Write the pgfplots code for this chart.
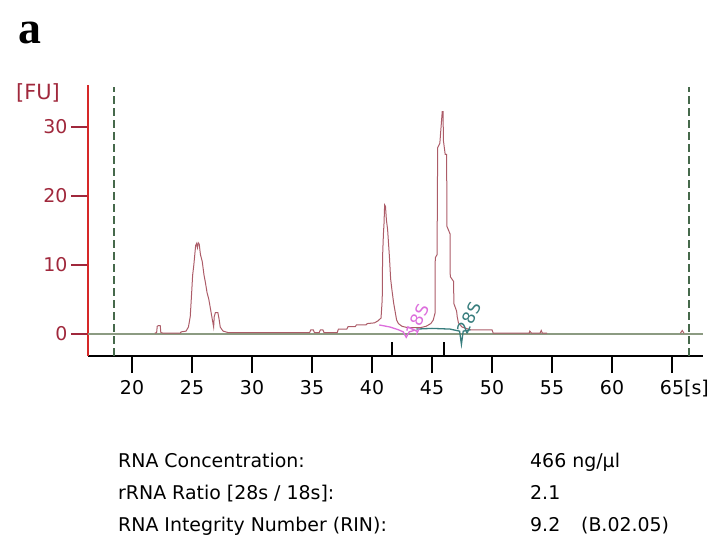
\documentclass[border=0pt]{standalone}
\usepackage{pgfplots}
\pgfplotsset{compat=1.18}
\usepackage{fontspec}
\setmainfont{DejaVu Sans}
\newfontfamily\serifbold{Liberation Serif}
\definecolor{trace}{RGB}{172,92,104}
\definecolor{base}{RGB}{140,155,130}
\definecolor{fuaxis}{RGB}{214,40,40}
\definecolor{fulabel}{RGB}{160,40,60}
\definecolor{marker}{RGB}{70,105,75}
\definecolor{pink18}{RGB}{220,110,220}
\definecolor{teal28}{RGB}{55,125,125}
\newcommand{\tickfont}{\fontsize{19}{22}\selectfont}
\begin{document}
\begin{tikzpicture}
\path[use as bounding box] (0bp,0bp) rectangle (717bp,545bp);
\begin{axis}[
  at={(88bp,189bp)}, anchor=south west,
  scale only axis, width=615.2bp, height=271.2bp,
  xmin=16.33, xmax=67.6, ymin=-3.2, ymax=36.1,
  axis lines=left, axis line style={-},
  x axis line style={black, line width=2.4bp},
  y axis line style={fuaxis, line width=2.2bp},
  tick align=outside, major tick length=17bp,
  xtick={20,25,...,65}, ytick={0,10,20,30},
  minor tick num=0,
  xtick style={black, line width=2bp},
  ytick style={fulabel, line width=2bp},
  ticklabel style={font=\tickfont},
  xticklabel style={yshift=-4bp},
  yticklabel style={text=fulabel},
  /pgf/number format/assume math mode=true,
  extra x ticks={41.7,46.0}, extra x tick labels={},
  extra tick style={tick align=inside, major tick length=14bp},
  clip=false,
]
% window markers
\addplot[marker, dash pattern=on 8bp off 4bp, line width=1.4bp] coordinates {(18.5,-3.2) (18.5,35.8)};
\addplot[marker, dash pattern=on 8bp off 4bp, line width=1.4bp] coordinates {(66.4,-3.2) (66.4,35.8)};
% baseline
\addplot[base, line width=1.8bp] coordinates {(16.33,0) (67.6,0)};
% electropherogram trace
\addplot[trace, line width=1bp] coordinates {
(21.9,0.1) (22.05,0.2) (22.1,1.1) (22.2,1.2) (22.35,1.2) (22.4,0.2) (22.6,0.1)
(24.0,0.1) (24.1,0.3) (24.5,0.4) (24.7,1.0) (24.85,2.5) (24.95,5.4) (25.05,8.5)
(25.15,10.0) (25.3,12.8) (25.38,13.1) (25.45,12.5) (25.52,13.2) (25.6,13.0)
(25.7,11.5) (25.85,10.5) (26.0,8.5) (26.1,7.6) (26.25,6.0) (26.4,5.0) (26.55,3.5)
(26.7,2.0) (26.8,1.0) (26.85,2.5) (26.95,3.1) (27.15,3.1) (27.25,2.2) (27.35,1.0)
(27.5,0.6) (27.6,0.4) (28,0.2) (34.8,0.2) (34.9,0.6) (35.1,0.6) (35.2,0.2)
(35.6,0.2) (35.7,0.6) (35.9,0.6) (36.0,0.2) (37.1,0.2) (37.2,0.7) (37.9,0.7)
(38.0,1.05) (38.6,1.05) (38.7,1.3) (39.5,1.3) (39.6,1.5) (40.2,1.6) (40.5,1.9)
(40.75,2.3) (40.85,5) (40.88,11.2) (40.95,14.5) (41.0,16.0) (41.05,18.7)
(41.12,18.5) (41.2,16.5) (41.3,15.1) (41.4,12.5) (41.45,11.2) (41.55,8.0)
(41.65,6.5) (41.8,4.5) (41.95,3.0) (42.05,2.0) (42.2,1.5) (42.5,1.1) (43.0,0.9)
(44.0,0.9) (44.5,1.1) (44.9,1.5) (45.1,2.0) (45.25,3.0) (45.27,11.0) (45.42,11.5)
(45.47,27.0) (45.65,27.6) (45.85,32.2) (45.92,32.2) (45.95,28.0) (46.1,26.0)
(46.22,26.0) (46.24,15.6) (46.5,14.5) (46.52,8.3) (46.8,7.6) (46.82,4.4)
(47.05,3.3) (47.1,2.5) (47.2,1.6) (47.5,1.0) (48.2,0.6) (50.0,0.6) (50.1,0.1)
(53.1,0.1) (53.15,0.4) (53.3,0.1) (54.0,0.1) (54.1,0.5) (54.2,0.1) (54.6,0.1)
};
\addplot[trace, line width=1bp] coordinates {(65.7,0.1) (65.85,0.5) (66.0,0.1)};
% 18S and 28S fragment lines
\addplot[pink18, line width=1.3bp] coordinates {(40.6,1.3) (41.5,1.0) (42.2,0.6) (42.6,0.3) (42.85,-0.5) (43.1,0.3) (43.5,0.5)};
\addplot[teal28, line width=1.3bp] coordinates {(43.7,0.7) (45.0,0.8) (46.5,0.7) (47.3,0.4) (47.45,-1.5) (47.6,0.4) (48.2,0.6)};
\node[rotate=65, text=pink18, inner sep=0pt, font=\fontsize{17}{17}\selectfont] at (axis cs:43.8,2.0) {18S};
\node[rotate=65, text=teal28, inner sep=0pt, font=\fontsize{17}{17}\selectfont] at (axis cs:48.1,2.3) {28S};
\end{axis}
\node[font=\serifbold\bfseries\fontsize{46}{46}\selectfont] at (30bp,512bp) {a};
\node[text=fulabel, font=\fontsize{21}{24}\selectfont] at (38bp,452bp) {[FU]};
\node[anchor=mid west, inner sep=0pt, font=\tickfont] at (684bp,153bp) {[s]};
\node[anchor=mid west, inner sep=0pt, font=\tickfont] at (118bp,80bp) {RNA Concentration:};
\node[anchor=mid west, inner sep=0pt, font=\tickfont] at (118bp,48bp) {rRNA Ratio [28s / 18s]:};
\node[anchor=mid west, inner sep=0pt, font=\tickfont] at (118bp,16bp) {RNA Integrity Number (RIN):};
\node[anchor=mid west, inner sep=0pt, font=\tickfont] at (530bp,80bp) {466 ng/µl};
\node[anchor=mid west, inner sep=0pt, font=\tickfont] at (530bp,48bp) {2.1};
\node[anchor=mid west, inner sep=0pt, font=\tickfont] at (530bp,16bp) {9.2\hspace{1.1em}(B.02.05)};
\end{tikzpicture}
\end{document}
